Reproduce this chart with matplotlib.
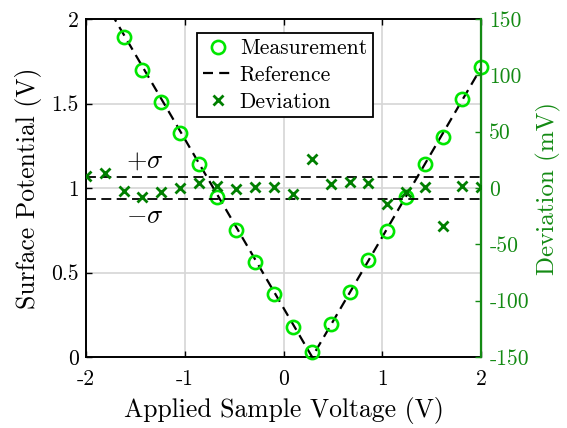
import numpy as np
import matplotlib
matplotlib.use("Agg")
import matplotlib.pyplot as plt

plt.rcParams['font.family'] = ['cmr10', 'DejaVu Serif']
plt.rcParams['mathtext.fontset'] = 'cm'
plt.rcParams['axes.unicode_minus'] = False
plt.rcParams['axes.formatter.use_mathtext'] = True

# ---- data ----
meas_v = [-1.62, -1.43, -1.24, -1.05, -0.86, -0.67, -0.48, -0.29, -0.10, 0.10,
          0.29, 0.48, 0.67, 0.86, 1.05, 1.24, 1.43, 1.62, 1.81, 2.00]
meas_sp = [1.892, 1.696, 1.511, 1.327, 1.140, 0.947, 0.751, 0.564, 0.373, 0.179,
           0.031, 0.195, 0.386, 0.574, 0.747, 0.948, 1.142, 1.300, 1.525, 1.714]

ref_v = [-2.0, 0.29, 2.0]
ref_sp = [2.29, 0.0, 1.71]

dev_v = [-2.00, -1.81, -1.62, -1.43, -1.24, -1.05, -0.86, -0.67, -0.48, -0.29, -0.10,
         0.10, 0.29, 0.48, 0.67, 0.86, 1.05, 1.24, 1.43, 1.62, 1.81, 2.00]
dev_mv = [10.6, 13.0, -2.4, -8.3, -3.8, 0.3, 4.2, 2.0, -0.9, 0.6, 0.6,
          -5.3, 25.5, 3.5, 5.1, 4.2, -14.2, -3.3, 1.2, -33.7, 1.8, 1.2]
sigma = 10.0

xticks = [-2, -1, 0, 1, 2]
xticklabels = ['-2', '-1', '0', '1', '2']
yticks = [0, 0.5, 1, 1.5, 2]
yticklabels = ['0', '0.5', '1', '1.5', '2']
y2ticks = [-150, -100, -50, 0, 50, 100, 150]
y2ticklabels = ['-150', '-100', '-50', '0', '50', '100', '150']

GREEN = '#00e600'
DGREEN = '#007f00'
AXGREEN = '#138a13'

fig = plt.figure(figsize=(5.67, 4.28), dpi=100)
ax1 = fig.add_axes([86/567, 1-357/428, (481-86)/567, (357-19)/428])
ax2 = ax1.twinx()

ax1.set_xlim(-2, 2)
ax1.set_ylim(0, 2)
ax2.set_ylim(-150, 150)

ax1.grid(True, color='#d6d6d6', linewidth=1.2)
ax1.set_axisbelow(True)

ref_line, = ax1.plot(ref_v, ref_sp, color='black', linestyle=(0, (4.5, 2.8)),
                     linewidth=1.6, zorder=2)
meas_line, = ax1.plot(meas_v, meas_sp, linestyle='none', marker='o', markersize=9.5,
                      markerfacecolor='none', markeredgecolor=GREEN,
                      markeredgewidth=1.9, zorder=3, clip_on=False)

ax2.axhline(sigma, color='black', linestyle=(0, (5.5, 3.0)), linewidth=1.3)
ax2.axhline(-sigma, color='black', linestyle=(0, (5.5, 3.0)), linewidth=1.3)
dev_line, = ax2.plot(dev_v, dev_mv, linestyle='none', marker='x', markersize=6.5,
                     markeredgewidth=2.0, color=DGREEN, zorder=4)

ax2.text(-1.40, 24, r'$+\sigma$', fontsize=19, ha='center', va='center')
ax2.text(-1.40, -25, r'$-\sigma$', fontsize=19, ha='center', va='center')

ax1.set_xticks(xticks)
ax1.set_xticklabels(xticklabels)
ax1.set_yticks(yticks)
ax1.set_yticklabels(yticklabels)
ax2.set_yticks(y2ticks)
ax2.set_yticklabels(y2ticklabels)

ax1.tick_params(axis='both', direction='in', length=4, width=1.0, labelsize=15.5,
                top=True, colors='black')
ax1.tick_params(axis='x', pad=9)
ax1.tick_params(axis='y', pad=5)
ax2.tick_params(axis='y', direction='in', length=4, width=1.0, labelsize=15.5,
                colors=AXGREEN, pad=6)

for s in ['left', 'bottom', 'top']:
    ax1.spines[s].set_linewidth(1.4)
    ax1.spines[s].set_color('black')
ax2.spines['right'].set_color(AXGREEN)
ax2.spines['right'].set_linewidth(1.6)
ax2.spines['left'].set_visible(False)
ax2.spines['top'].set_visible(False)
ax2.spines['bottom'].set_visible(False)

ax1.set_xlabel('Applied Sample Voltage (V)', fontsize=18.5, labelpad=6)
ax1.set_ylabel('Surface Potential (V)', fontsize=18.5, labelpad=7)
ax2.set_ylabel('Deviation (mV)', fontsize=18, color=AXGREEN, labelpad=5)

leg = ax2.legend([meas_line, ref_line, dev_line],
                 ['Measurement', 'Reference', 'Deviation'],
                 loc='upper center', bbox_to_anchor=(0.504, 0.9586),
                 fontsize=15.5, frameon=True, fancybox=False, framealpha=1,
                 edgecolor='black', handlelength=1.35, handletextpad=0.35,
                 borderpad=0.27, labelspacing=0.33, borderaxespad=0)
leg.get_frame().set_linewidth(1.3)

fig.savefig('out.png', dpi=100)
